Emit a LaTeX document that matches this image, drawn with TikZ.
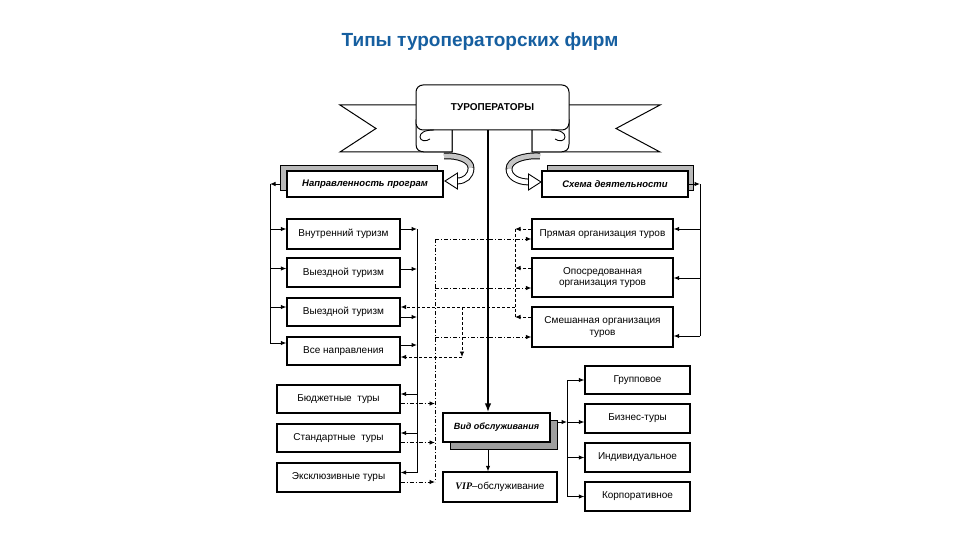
\documentclass[tikz,border=0pt]{standalone}
\usepackage{fontspec}
\setmainfont{Liberation Sans}
\newfontfamily\serifit{Liberation Serif}
\usetikzlibrary{arrows.meta,calc}
\definecolor{titleblue}{RGB}{22,95,160}
\begin{document}
\begin{tikzpicture}[x=1pt,y=-1pt,
  box/.style={draw, line width=1.2pt, fill=white, inner sep=1pt, align=center, font=\fontsize{10}{11.5}\selectfont},
  hdr/.style={box, font=\fontsize{9.5}{11}\selectfont\bfseries\itshape},
  shadowbox/.style={draw, line width=0.9pt, fill=gray!55, inner sep=0pt},
  conn/.style={line width=1pt},
  arr/.style={conn, -{Latex[length=5.5pt,width=4.5pt]}},
  dd/.style={line width=0.9pt, dash pattern=on 4pt off 2pt on 1pt off 2pt},
  ddarr/.style={dd, -{Latex[length=5.5pt,width=4.5pt]}},
  ds/.style={line width=0.9pt, dash pattern=on 3pt off 2pt},
  dsarr/.style={ds, -{Latex[length=5.5pt,width=4.5pt]}},
  ribbon/.style={line width=1pt, fill=white, line join=miter},
]
\path[fill=white, use as bounding box] (0,0) rectangle (960,540);

% title
\node[font=\fontsize{19}{21}\selectfont\bfseries, text=titleblue] (title) at (480,42) {Типы туроператорских фирм};

% ---- banner ----
\draw[ribbon] (440,105) -- (340,105) -- (376,128.5) -- (340,152) -- (452,152) -- (452,125) -- cycle;
\draw[ribbon] (545,105) -- (660,105) -- (616,128.5) -- (660,152) -- (532,152) -- (532,125) -- cycle;
\draw[ribbon] (416,120) -- (416,144) .. controls (416,150) and (419,152) .. (426,152) -- (452,152) -- (452,120) -- cycle;
\draw[ribbon] (569,120) -- (569,144) .. controls (569,150) and (566,152) .. (559,152) -- (532,152) -- (532,120) -- cycle;
\node[draw, line width=1pt, fill=white, rounded corners=7pt, minimum width=153pt, minimum height=45pt, inner sep=0pt,
      font=\fontsize{10}{12}\selectfont\bfseries] (banner) at (492.5,107.5) {ТУРОПЕРАТОРЫ};
\draw[line width=0.9pt] (434,130) .. controls (424,130) and (420,133) .. (420,137) .. controls (420,141) and (426,142) .. (430,139);
\draw[line width=0.9pt] (551,130) .. controls (561,130) and (565,133) .. (565,137) .. controls (565,141) and (559,142) .. (555,139);

% ---- header boxes ----
\node[shadowbox, minimum width=157pt, minimum height=25pt] (naprsh) at (358.5,177.5) {};
\node[hdr, minimum width=156pt, minimum height=26pt] (napr) at (365,184) {Направленность програм};
\node[shadowbox, minimum width=146pt, minimum height=25pt] (schsh) at (620,177.5) {};
\node[hdr, minimum width=146pt, minimum height=26pt] (sch) at (615,184) {Схема деятельности};

% ---- curled arrows from the banner ----
\draw[line width=6.8pt] (444,156) .. controls (458,155) and (471,160) .. (471,168) .. controls (471,176) and (465,181) .. (457,181);
\draw[line width=4.8pt, gray!45] (444,156) .. controls (458,155) and (471,160) .. (471,168);
\draw[line width=4.8pt, white] (471,168) .. controls (471,176) and (465,181) .. (457,181);
\draw[line width=0.9pt, fill=white, line join=miter] (445,181) -- (457.5,173) -- (457.5,189) -- cycle;

\draw[line width=6.8pt] (540,156) .. controls (524,155) and (509,160) .. (509,169) .. controls (509,177) and (518,182) .. (529,182);
\draw[line width=4.8pt, gray!45] (540,156) .. controls (524,155) and (509,160) .. (509,169);
\draw[line width=4.8pt, white] (509,169) .. controls (509,177) and (518,182) .. (529,182);
\draw[line width=0.9pt, fill=white, line join=miter] (541,182) -- (528.5,174) -- (528.5,190) -- cycle;

% ---- left boxes ----
\node[box, minimum width=113pt, minimum height=30pt] (b1) at (343.5,234) {Внутренний туризм};
\node[box, minimum width=113pt, minimum height=29pt] (b2) at (343.5,272.5) {Выездной туризм};
\node[box, minimum width=113pt, minimum height=28pt] (b3) at (343.5,312) {Выездной туризм};
\node[box, minimum width=113pt, minimum height=28pt] (b4) at (343.5,351) {Все направления};
\node[box, minimum width=123pt, minimum height=28pt] (c1) at (338.5,399) {Бюджетные\ \ туры};
\node[box, minimum width=123pt, minimum height=28pt] (c2) at (338.5,438) {Стандартные\ \ туры};
\node[box, minimum width=123pt, minimum height=29pt] (c3) at (338.5,477.5) {Эксклюзивные туры};

% ---- right boxes ----
\node[box, minimum width=141pt, minimum height=30pt] (r1) at (602.5,234) {Прямая организация туров};
\node[box, minimum width=141pt, minimum height=39pt] (r2) at (602.5,277.5) {Опосредованная\\организация туров};
\node[box, minimum width=141pt, minimum height=40pt] (r3) at (602.5,327) {Смешанная организация\\туров};

\node[box, minimum width=105pt, minimum height=28pt] (s1) at (637.5,380) {Групповое};
\node[box, minimum width=105pt, minimum height=29pt] (s2) at (637.5,418.5) {Бизнес-туры};
\node[box, minimum width=105pt, minimum height=29pt] (s3) at (637.5,457.5) {Индивидуальное};
\node[box, minimum width=105pt, minimum height=29pt] (s4) at (637.5,496.5) {Корпоративное};

% ---- service boxes ----
\node[shadowbox, fill=gray!75, minimum width=107pt, minimum height=29pt] (vidsh) at (503.5,434.5) {};
\node[box, font=\fontsize{9}{11}\selectfont\bfseries\itshape, minimum width=107pt, minimum height=29pt] (vid) at (496.5,427.5) {Вид обслуживания};
\node[box, minimum width=114pt, minimum height=30pt] (vip) at (500,487) {{\serifit\bfseries\itshape VIP}–обслуживание};

% ---- bus coordinates ----
\coordinate (lbus) at (270,184);
\coordinate (mbus) at (417,229);
\coordinate (ddbus) at (435,239);
\coordinate (dsbus) at (515,229);
\coordinate (dsx) at (462,0);
\coordinate (rbus) at (700,184);
\coordinate (sbus) at (567,0);
\coordinate (mline) at (488,130);

% central thick line
\draw[line width=2.4pt, -{Latex[length=9pt,width=6.5pt]}] (mline) -- (mline |- vid.north);
\draw[arr] (mline |- vidsh.south) -- (mline |- vip.north);

% left solid bus
\draw[arr] (naprsh.west |- napr.center) -- (lbus);
\foreach \n/\o in {b1/-5, b2/-4, b3/-5, b4/-8} {
  \coordinate (\n l) at ($(\n.west)+(0,\o)$);
  \draw[arr] (lbus |- \n l) -- (\n l);
}
\draw[conn] (lbus) -- (lbus |- b4l);

% middle solid bus
\foreach \n/\o in {b1/-5, b2/-3.5, b3/5, b4/-6} {
  \coordinate (\n r) at ($(\n.east)+(0,\o)$);
  \draw[arr] (\n r) -- (mbus |- \n r);
}
\foreach \n in {c1, c2, c3} {
  \coordinate (\n r) at ($(\n.east)+(0,-5)$);
  \draw[arr] (mbus |- \n r) -- (\n r);
}
\draw[conn] (mbus) -- (mbus |- c3r);

% dash-dot bus
\foreach \n in {c1, c2, c3} {
  \coordinate (\n d) at ($(\n.east)+(0,4.5)$);
  \draw[ddarr] (\n d) -- (ddbus |- \n d);
}
\draw[dd] (ddbus) -- (ddbus |- c3d);
\foreach \n/\o in {r1/5, r2/10.5, r3/10} {
  \coordinate (\n d) at ($(\n.west)+(0,\o)$);
  \draw[ddarr] (ddbus |- \n d) -- (\n d);
}

% dashed bus
\foreach \n/\o in {r1/-5, r2/-9.5, r3/-10} {
  \coordinate (\n s) at ($(\n.west)+(0,\o)$);
  \draw[dsarr] (\n s) -- (dsbus |- \n s);
}
\draw[ds] (dsbus) -- (dsbus |- r3s);
\coordinate (b3s) at ($(b3.east)+(0,-5)$);
\coordinate (b4s) at ($(b4.east)+(0,6)$);
\draw[dsarr] (dsbus |- b3s) -- (b3s);
\draw[dsarr] (dsx |- b3s) -- (dsx |- b4s);
\draw[dsarr] (dsx |- b4s) -- (b4s);

% right solid bus
\draw[arr] (sch.east) -- (rbus);
\foreach \n/\o in {r1/-5, r2/0.5, r3/9} {
  \coordinate (\n e) at ($(\n.east)+(0,\o)$);
  \draw[arr] (rbus |- \n e) -- (\n e);
}
\draw[conn] (rbus) -- (rbus |- r3e);

% service bus
\coordinate (vidr) at ($(vidsh.east)+(0,-12.5)$);
\draw[arr] (vidr) -- (sbus |- vidr);
\draw[conn] (sbus |- s1.west) -- (sbus |- s4.west);
\foreach \n in {s1, s3, s4} {
  \draw[arr] (sbus |- \n.west) -- (\n.west);
}
\draw[arr] (sbus |- vidr) -- (s2.west |- vidr);
\end{tikzpicture}
\end{document}
